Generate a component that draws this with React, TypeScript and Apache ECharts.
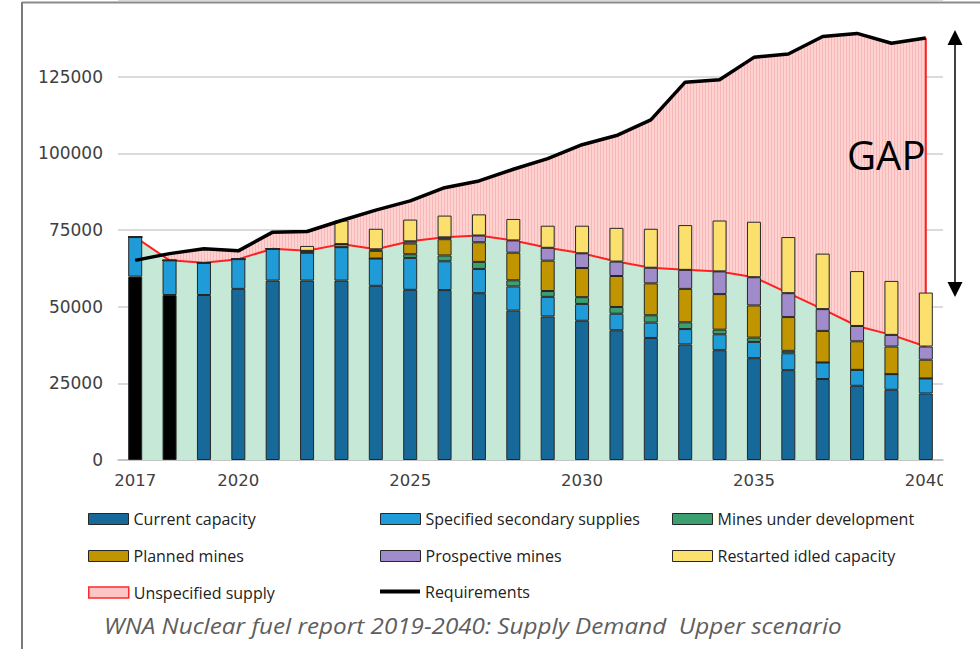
import React, { useEffect, useRef } from "react";
import * as echarts from "echarts";

const years = ["2017","2018","2019","2020","2021","2022","2023","2024","2025","2026","2027","2028","2029","2030","2031","2032","2033","2034","2035","2036","2037","2038","2039","2040"];
const tickYears = ["2017", "2020", "2025", "2030", "2035", "2040"];

const currentCapacity = [59800, 53800, 53800, 55800, 58500, 58500, 58500, 56800, 55500, 55400, 54400, 48700, 46800, 45400, 42300, 39800, 37700, 35800, 33200, 29300, 26400, 24200, 22900, 21700];
const secondarySupplies = [12900, 11300, 10500, 9700, 10400, 9100, 10900, 8900, 10400, 9400, 7900, 7900, 6400, 5500, 5400, 5000, 5000, 5200, 5300, 5500, 5400, 5200, 5100, 4900];
const minesUnderDevelopment = [0, 0, 0, 0, 0, 0, 0, 0, 1200, 1900, 2300, 2000, 1900, 2200, 2200, 2400, 2200, 1500, 1400, 800, 0, 0, 0, 0];
const plannedMines = [0, 0, 0, 0, 0, 600, 1000, 2500, 3500, 5300, 6400, 9000, 9900, 9500, 10100, 10400, 10900, 11600, 10500, 11000, 10300, 9300, 9000, 6100];
const prospectiveMines = [0, 0, 0, 0, 0, 0, 0, 500, 700, 600, 2200, 4000, 4200, 4800, 4700, 5100, 6200, 7400, 9200, 7800, 7100, 5000, 3800, 4300];
const restartedIdled = [0, 0, 0, 0, 0, 1600, 7700, 6700, 7100, 7100, 6900, 7000, 7200, 9000, 11000, 12700, 14600, 16600, 18100, 18300, 18100, 17900, 17600, 17600];
const requirements = [65100, 67300, 68900, 68200, 74300, 74500, 78100, 81500, 84500, 88800, 91000, 94800, 98300, 102800, 105800, 110900, 123200, 124000, 131300, 132400, 138100, 139100, 135900, 137600];

const BAR_BORDER = "#262626";

export default function App() {
  const ref = useRef<HTMLDivElement>(null);

  useEffect(() => {
    if (!ref.current) return;
    const chart = echarts.init(ref.current, undefined, { renderer: "svg" });

    // hatched pink pattern
    const cv = document.createElement("canvas");
    cv.width = 3;
    cv.height = 3;
    const ctx = cv.getContext("2d")!;
    ctx.fillStyle = "#ffd2d2";
    ctx.fillRect(0, 0, 3, 3);
    ctx.fillStyle = "#f9b8b8";
    ctx.fillRect(0, 0, 1, 3);
    const pinkPattern: any = { image: cv.toDataURL(), repeat: "repeat", imageWidth: 3, imageHeight: 3 };

    const specified = years.map((_, i) =>
      currentCapacity[i] + secondarySupplies[i] + minesUnderDevelopment[i] + plannedMines[i] + prospectiveMines[i]
    );
    const last = years.length - 1;

    const barSeries = (name: string, data: any[], color: string) => ({
      name,
      type: "bar",
      stack: "supply",
      barWidth: 14,
      data,
      z: 3,
      itemStyle: { color, borderColor: BAR_BORDER, borderWidth: 1 },
    });

    const currentData = currentCapacity.map((v, i) =>
      i < 2 ? { value: v, itemStyle: { color: "#000000" } } : v
    );

    const legendFont = { fontFamily: "Open Sans", fontSize: 16, color: "#222" };
    const mkLegend = (name: string, left: number, top: number, itemStyle: any, extra: any = {}) => ({
      left,
      top,
      padding: 0,
      itemWidth: 40,
      itemHeight: 11,
      icon: "rect",
      data: [name],
      textStyle: legendFont,
      itemStyle,
      selectedMode: false,
      ...extra,
    });

    const row1 = 511, row2 = 548, row3 = 584.5;
    const col1 = 88, col2 = 380, col3 = 672;

    chart.setOption({
      animation: false,
      backgroundColor: "#ffffff",
      grid: { left: 118, right: 37, top: -4.1, bottom: 189, containLabel: false },
      xAxis: {
        type: "category",
        data: years,
        boundaryGap: true,
        axisTick: { show: false },
        axisLine: { lineStyle: { color: "#bdbdbd", width: 1.5 } },
        axisLabel: {
          interval: (_i: number, v: string) => tickYears.includes(v),
          fontFamily: "DejaVu Sans",
          fontSize: 16.5,
          color: "#404040",
          margin: 12,
        },
      },
      yAxis: {
        type: "value",
        min: 0,
        max: 150000,
        interval: 25000,
        axisLine: { show: false },
        axisTick: { show: false },
        splitLine: { lineStyle: { color: "#cfcfcf", width: 1.5 } },
        axisLabel: {
          formatter: (v: number) => (v < 150000 ? String(v) : ""),
          fontFamily: "DejaVu Sans",
          fontSize: 17,
          color: "#404040",
          margin: 15,
        },
      },
      legend: [
        mkLegend("Current capacity", col1, row1, { color: "#17699a", borderColor: BAR_BORDER, borderWidth: 1 }),
        mkLegend("Planned mines", col1, row2, { color: "#c09500", borderColor: BAR_BORDER, borderWidth: 1 }),
        mkLegend("Unspecified supply", col1, row3, { color: "#fcc6c6", borderColor: "#ff2a2a", borderWidth: 1.5 }),
        mkLegend("Specified secondary supplies", col2, row1, { color: "#1f9bd7", borderColor: BAR_BORDER, borderWidth: 1 }),
        mkLegend("Prospective mines", col2, row2, { color: "#a08cca", borderColor: BAR_BORDER, borderWidth: 1 }),
        mkLegend("Requirements", col2, row3 - 1, { color: "#000000", borderWidth: 0 }, { itemHeight: 4 }),
        mkLegend("Mines under development", col3, row1, { color: "#3b9f6f", borderColor: BAR_BORDER, borderWidth: 1 }),
        mkLegend("Restarted idled capacity", col3, row2, { color: "#fbe06e", borderColor: BAR_BORDER, borderWidth: 1 }),
      ],
      series: [
        {
          name: "Unspecified supply",
          type: "line",
          data: requirements,
          symbol: "none",
          z: 1,
          lineStyle: { width: 0 },
          itemStyle: { color: "#fcc6c6" },
          areaStyle: { color: pinkPattern, opacity: 1 },
        },
        {
          name: "Specified supply total",
          type: "line",
          data: specified,
          symbol: "none",
          z: 2,
          lineStyle: { color: "#ff2020", width: 2 },
          itemStyle: { color: "#ff2020" },
          areaStyle: { color: "#c6e8d6", opacity: 1 },
        },
        {
          name: "gap edge",
          type: "line",
          data: [[years[last], specified[last]], [years[last], requirements[last]]],
          symbol: "none",
          z: 2,
          lineStyle: { color: "#ff2020", width: 2 },
        },
        barSeries("Current capacity", currentData, "#17699a"),
        barSeries("Specified secondary supplies", secondarySupplies, "#1f9bd7"),
        barSeries("Mines under development", minesUnderDevelopment, "#3b9f6f"),
        barSeries("Planned mines", plannedMines, "#c09500"),
        barSeries("Prospective mines", prospectiveMines, "#a08cca"),
        barSeries("Restarted idled capacity", restartedIdled, "#fbe06e"),
        {
          name: "Requirements",
          type: "line",
          data: requirements,
          symbol: "none",
          z: 5,
          lineStyle: { color: "#000000", width: 3.5 },
          itemStyle: { color: "#000000" },
        },
      ],
      graphic: [
        { type: "line", shape: { x1: 22, y1: 2, x2: 22, y2: 649 }, style: { stroke: "#7a7a7a", lineWidth: 2 }, z: 10 },
        { type: "line", shape: { x1: 22, y1: 2.5, x2: 980, y2: 2.5 }, style: { stroke: "#8a8a8a", lineWidth: 2 }, z: 10 },
        { type: "rect", shape: { x: 943, y: 466, width: 26, height: 30 }, style: { fill: "#ffffff" }, z: 10 },
        {
          type: "text",
          left: 847,
          top: 134,
          style: { text: "GAP", font: "40px 'Open Sans'", fill: "#000" },
          z: 10,
        },
        { type: "line", shape: { x1: 955, y1: 42, x2: 955, y2: 285 }, style: { stroke: "#000", lineWidth: 1.5 }, z: 10 },
        { type: "polygon", shape: { points: [[955, 30], [947.5, 45], [962.5, 45]] }, style: { fill: "#000" }, z: 10 },
        { type: "polygon", shape: { points: [[955, 297], [947.5, 282], [962.5, 282]] }, style: { fill: "#000" }, z: 10 },
        {
          type: "text",
          x: 104,
          y: 616,
          scaleX: 1.155,
          style: {
            text: "WNA Nuclear fuel report 2019-2040: Supply Demand  Upper scenario",
            font: "italic 21px 'Open Sans'",
            fill: "#5e5e5e",
          },
          z: 10,
        },
      ],
    });

    return () => chart.dispose();
  }, []);

  return (
    <div
      ref={ref}
      style={{ position: "absolute", left: 0, top: 0, width: 980, height: 649 }}
    />
  );
}
